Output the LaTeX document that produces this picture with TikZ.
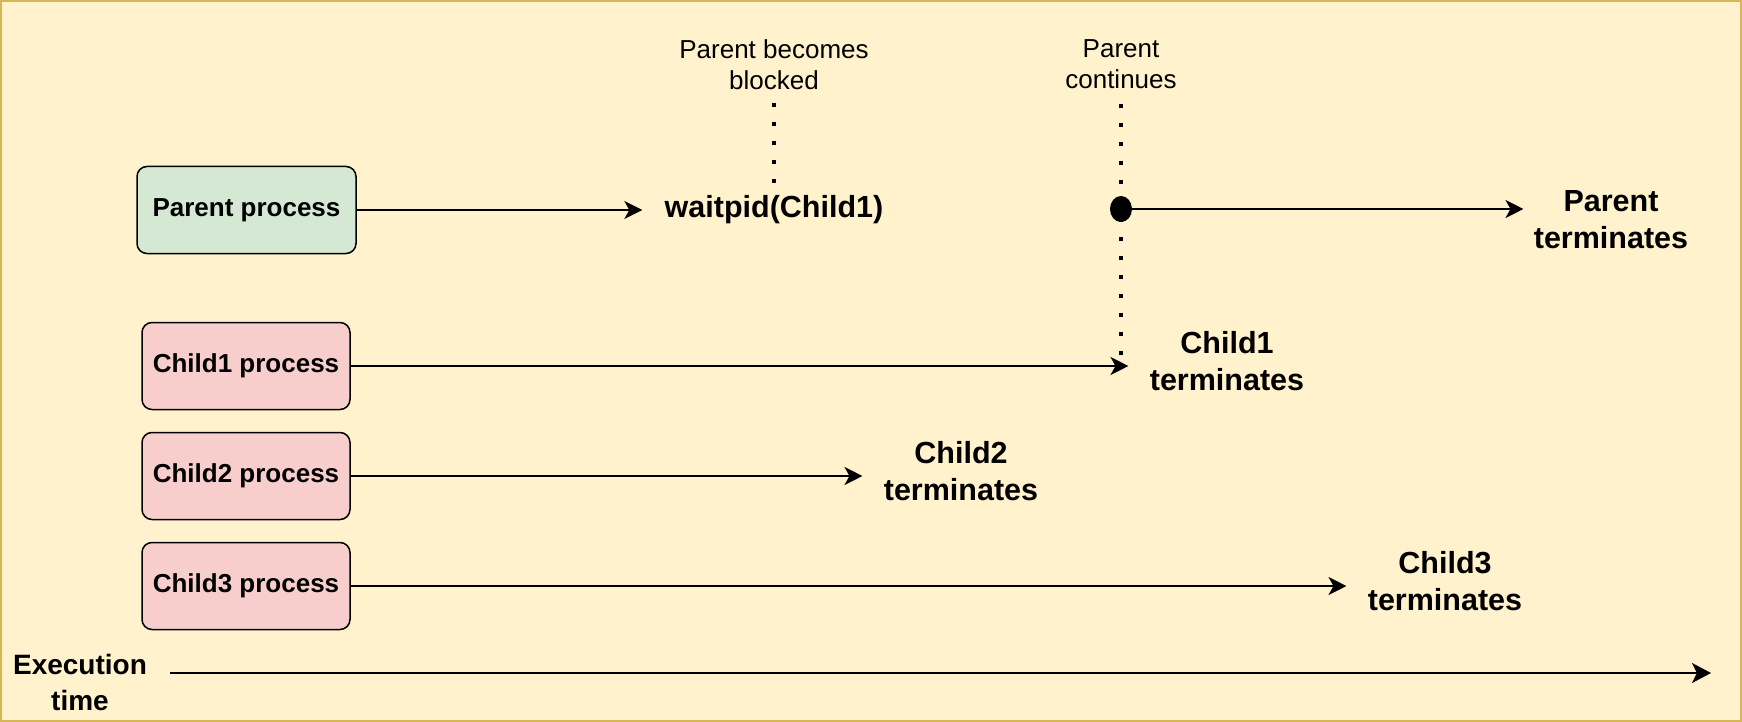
\documentclass[tikz,border=0pt]{standalone}
\usepackage{fontspec}
\setmainfont{Liberation Sans}
\usetikzlibrary{arrows.meta,shapes.geometric}
\definecolor{bgyellow}{HTML}{FFF2CC}
\definecolor{bgline}{HTML}{D6B656}
\definecolor{parentgreen}{HTML}{D5E8D4}
\definecolor{childred}{HTML}{F8CECC}

\begin{document}
\begin{tikzpicture}[x=0.5pt, y=-0.5pt, font=\fontsize{13}{15.5}\selectfont,
    proc/.style={draw, line width=0.75pt, rounded corners=5pt, minimum width=104pt,
                 minimum height=43.5pt, font=\fontsize{13}{15.5}\selectfont\bfseries},
    endlabel/.style={align=center, inner xsep=10.5pt, font=\fontsize{15.25}{18.5}\selectfont\bfseries},
    note/.style={align=center},
    flow/.style={line width=0.7pt, -{Stealth[length=9pt, width=9pt, inset=2.5pt]}},
    dotline/.style={line width=2pt, dash pattern=on 2pt off 7.5pt}]
        \useasboundingbox (0,0) rectangle (1742,722);
        \filldraw[fill=bgyellow, draw=bgline, line width=1pt] (1,1) rectangle (1741,721);
        % parent timeline
        \node[proc, fill=parentgreen, minimum width=109.5pt] (par) at (246.5,210) {Parent process};
        \node[endlabel, inner xsep=11pt] (wait) at (774,210) {waitpid(Child1)};
        \draw[flow] (par) -- (wait);
        \node[note] (blk) at (774,64.5) {Parent becomes\\blocked};
        \draw[dotline, shorten <=3pt] (blk) -- (wait);
        \node[note] (cont) at (1121,64.5) {Parent\\continues};
        \coordinate (cend) at (1121,367);
        \draw[dotline, shorten <=4pt] (cont) -- (cend);
        \node[ellipse, fill=black, inner sep=0pt, minimum width=11pt, minimum height=13pt] (pdot) at (1121,209) {};
        \node[endlabel, inner xsep=5pt] (pterm) at (1611,219.5) {Parent\\terminates};
        \draw[flow] (pdot) -- (pdot -| pterm.west);
        % children
        \foreach \i/\yy/\tx in {1/366/1227, 2/476/961, 3/586/1445}{
          \node[proc, fill=childred] (c\i) at (246,\yy) {Child\i{} process};
          \node[endlabel] (t\i) at (\tx,\yy-4.5) {Child\i\\terminates};
          \draw[flow] (c\i) -- (c\i -| t\i.west);
        }
        % time axis
        \node[align=center, font=\fontsize{14}{18}\selectfont\bfseries] (exec) at (80,682) {Execution\\time};
        \coordinate (tstart) at (170,673);
        \coordinate (tend) at (1711,673);
        \draw[line width=1pt, -{Stealth[length=9.5pt, width=10pt, inset=2.5pt]}] (tstart) -- (tend);
      \end{tikzpicture}
\end{document}
